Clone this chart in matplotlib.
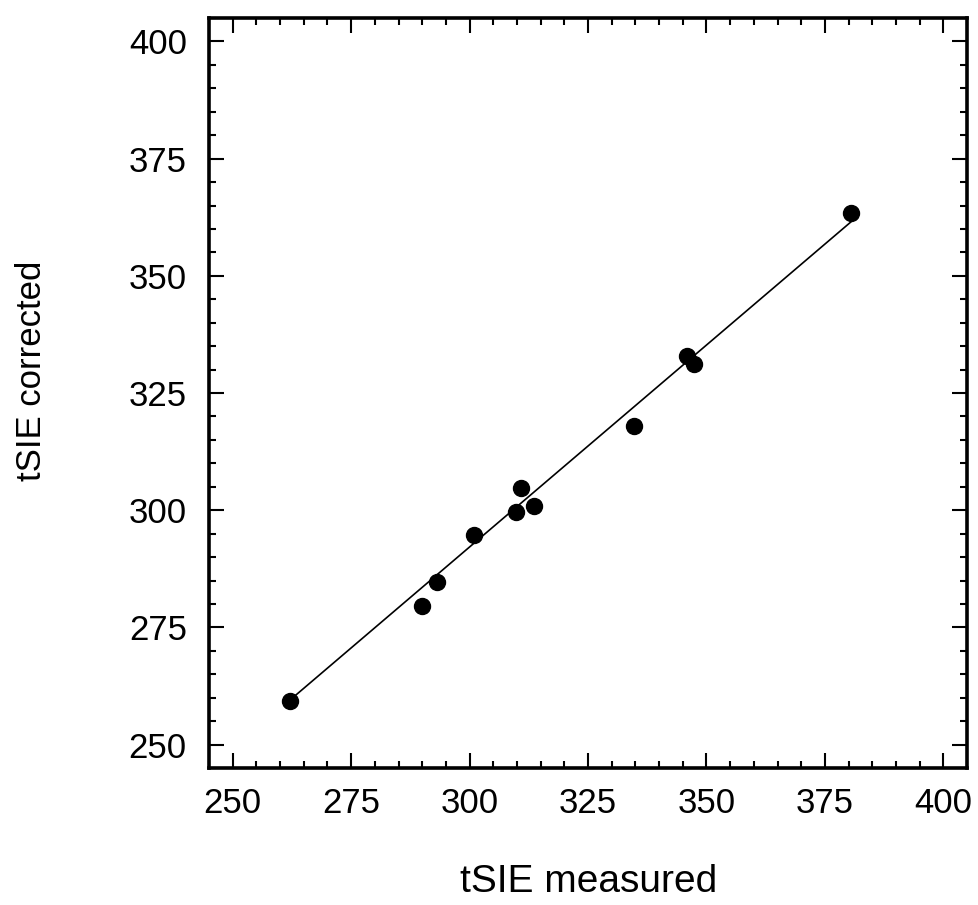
import numpy as np
import matplotlib
matplotlib.use("Agg")
import matplotlib.pyplot as plt
from matplotlib.ticker import MultipleLocator

plt.rcParams['font.family'] = ['Liberation Sans', 'DejaVu Sans']

# --- data ---
tsie_measured = [262.1, 290.0, 293.1, 301.0, 309.8, 310.9, 313.7, 334.7, 345.8, 347.4, 380.5]
tsie_corrected = [259.4, 279.6, 284.6, 294.7, 299.7, 304.8, 300.9, 317.9, 333.0, 331.1, 363.3]

# regression line endpoints
fit_x = [262.1, 380.5]
fit_y = [259.5, 361.5]

ticks = [250, 275, 300, 325, 350, 375, 400]

fig = plt.figure(figsize=(9.79, 9.05), dpi=100)
ax = fig.add_axes([209 / 979, 1 - 768 / 905, 758 / 979, 750 / 905])

ax.plot(fit_x, fit_y, color="black", lw=1.2, zorder=2)
ax.plot(tsie_measured, tsie_corrected, "o", color="black", ms=11.5, zorder=3)

ax.set_xlim(245, 405)
ax.set_ylim(245, 405)
ax.set_xticks(ticks)
ax.set_yticks(ticks)
ax.xaxis.set_minor_locator(MultipleLocator(5))
ax.yaxis.set_minor_locator(MultipleLocator(5))

for s in ax.spines.values():
    s.set_linewidth(2.6)

ax.tick_params(which="both", direction="in", top=True, right=True, width=1.5)
ax.tick_params(which="major", length=10.5, labelsize=25)
ax.tick_params(which="minor", length=5)
ax.tick_params(axis="x", pad=14)
ax.tick_params(axis="y", pad=16)

ax.set_xlabel("tSIE measured", fontsize=28)
ax.set_ylabel("tSIE corrected", fontsize=25)
ax.xaxis.set_label_coords((589 - 209) / 758, (768 - 882) / 750)
ax.yaxis.set_label_coords((31 - 209) / 758, (768 - 371) / 750)
ax.xaxis.label.set_va("center")
ax.yaxis.label.set_va("center")

fig.savefig("out.png", dpi=100)
